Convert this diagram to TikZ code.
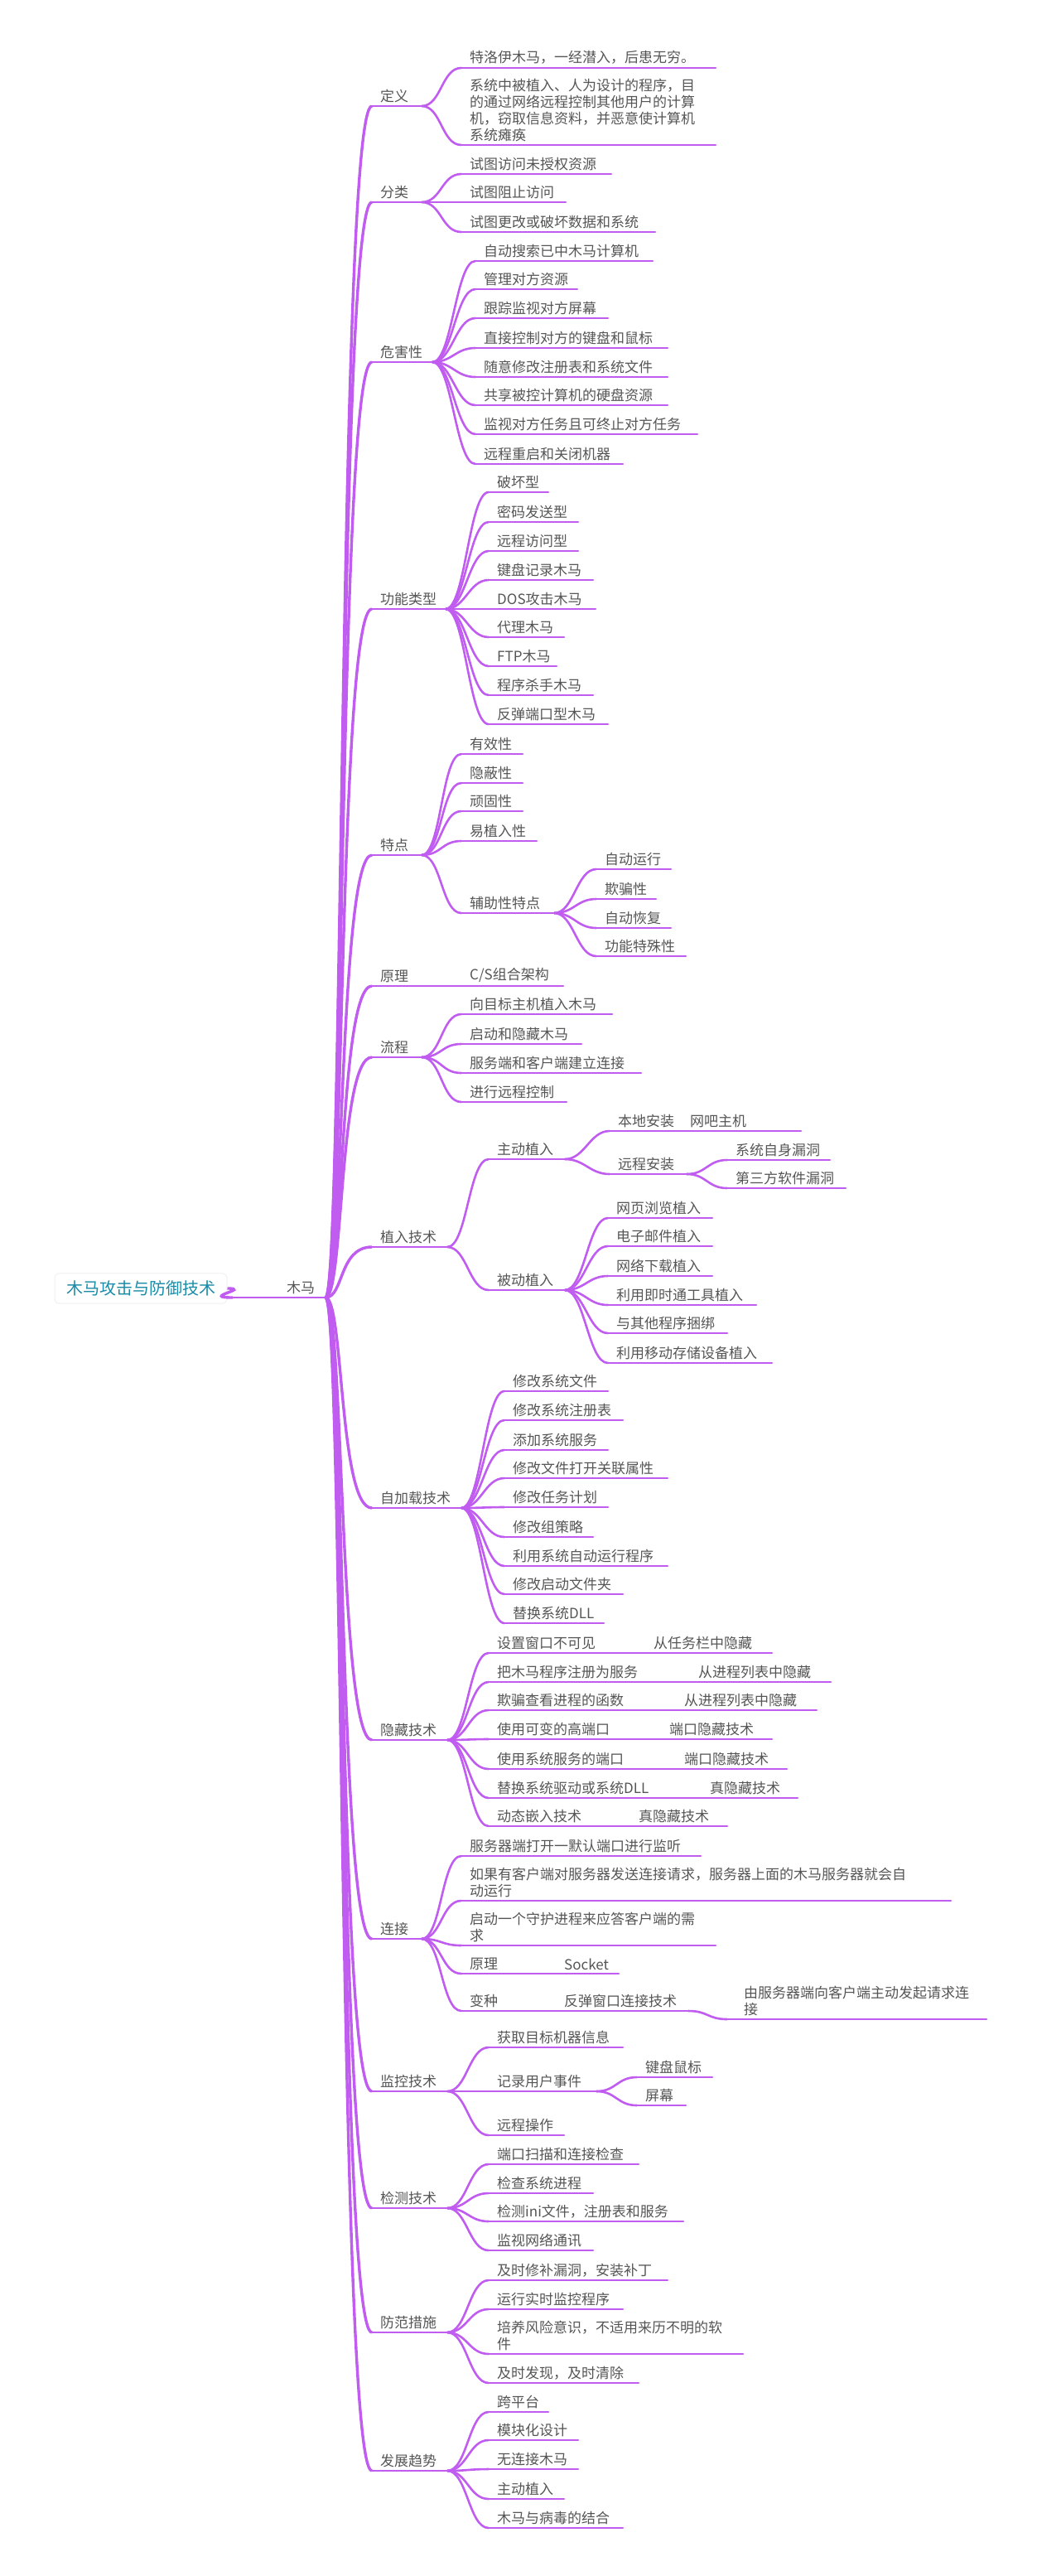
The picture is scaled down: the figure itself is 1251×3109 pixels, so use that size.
\documentclass[tikz,border=0pt]{standalone}
\usepackage{fontspec}
\setmainfont{Noto Sans CJK SC}
\usetikzlibrary{positioning}
\definecolor{branchc}{HTML}{C05CF0}
\definecolor{textc}{HTML}{555555}
\definecolor{rootc}{HTML}{1A8CA8}
\tikzset{
  uline/.style={branchc, line width=2.6pt, line cap=round},
  branch/.style={branchc, line width=2.6pt},
  trunk/.style={branchc, line width=3.4pt},
  txt/.style={anchor=south west, inner sep=0pt, text=textc, font=\fontsize{17}{20}\selectfont, align=left},
}
% leaf: underline from xs to xe at y, text sitting on it
\newcommand\leaf[6][]{%
  \coordinate (#2-s) at (#3,#5);
  \coordinate (#2-e) at (#4,#5);
  \draw[uline] (#2-s) -- (#2-e);
  \node[txt,#1] (#2) at ([xshift=10pt,yshift=4pt]#2-s) {#6};}
\newcommand\link[2]{\draw[branch] (#1-e) .. controls +(24,0) and +(-24,0) .. (#2-s);}
\newcommand\stem[1]{\draw[trunk] (hub) .. controls +(22,0) and +(-40,0) .. (#1-s);}
\begin{document}
\begin{tikzpicture}[x=1pt, y=-1pt]
\useasboundingbox (0,0) rectangle (1251,3109);
% root
\node[draw=black!6, line width=1pt, rounded corners=6pt, fill=white, text=rootc,
  font=\fontsize{20}{24}\selectfont, inner xsep=14pt, inner ysep=9pt] (root) at (170,1555) {木马攻击与防御技术};
\coordinate (hub) at (393,1566);
\leaf[xshift=55pt]{trojan}{281}{393}{1566}{木马}
\draw[trunk] (root.east) .. controls +(30,0) and +(-40,0) .. (trojan-s);
% 定义
\leaf{def}{449}{509}{128}{定义}
\leaf{def1}{557}{864}{82}{特洛伊木马，一经潜入，后患无穷。}
\leaf{def2}{557}{864}{175}{系统中被植入、人为设计的程序，目\\的通过网络远程控制其他用户的计算\\机，窃取信息资料，并恶意使计算机\\系统瘫痪}
\foreach \c in {def1,def2} {\link{def}{\c}}
% 分类
\leaf{cls}{449}{509}{244}{分类}
\leaf{cls1}{557}{738}{210}{试图访问未授权资源}
\leaf{cls2}{557}{683}{244}{试图阻止访问}
\leaf{cls3}{557}{791}{280}{试图更改或破坏数据和系统}
\foreach \c in {cls1,cls2,cls3} {\link{cls}{\c}}
% 危害性
\leaf{harm}{449}{522}{437}{危害性}
\leaf{harm1}{574}{788}{315}{自动搜索已中木马计算机}
\leaf{harm2}{574}{697}{349}{管理对方资源}
\leaf{harm3}{574}{734}{384}{跟踪监视对方屏幕}
\leaf{harm4}{574}{806}{420}{直接控制对方的键盘和鼠标}
\leaf{harm5}{574}{806}{455}{随意修改注册表和系统文件}
\leaf{harm6}{574}{806}{489}{共享被控计算机的硬盘资源}
\leaf{harm7}{574}{842}{524}{监视对方任务且可终止对方任务}
\leaf{harm8}{574}{752}{560}{远程重启和关闭机器}
\foreach \c in {1,...,8} {\link{harm}{harm\c}}
% 功能类型
\leaf{func}{449}{538}{735}{功能类型}
\leaf{func1}{590}{662}{594}{破坏型}
\leaf{func2}{590}{698}{630}{密码发送型}
\leaf{func3}{590}{698}{665}{远程访问型}
\leaf{func4}{590}{716}{700}{键盘记录木马}
\leaf{func5}{590}{719}{735}{DOS攻击木马}
\leaf{func6}{590}{681}{769}{代理木马}
\leaf{func7}{590}{672}{804}{FTP木马}
\leaf{func8}{590}{716}{839}{程序杀手木马}
\leaf{func9}{590}{734}{874}{反弹端口型木马}
\foreach \c in {1,...,9} {\link{func}{func\c}}
% 特点
\leaf{feat}{449}{509}{1032}{特点}
\leaf{feat1}{557}{631}{910}{有效性}
\leaf{feat2}{557}{631}{945}{隐蔽性}
\leaf{feat3}{557}{631}{979}{顽固性}
\leaf{feat4}{557}{648}{1015}{易植入性}
\leaf{feat5}{557}{669}{1102}{辅助性特点}
\foreach \c in {1,...,5} {\link{feat}{feat\c}}
\leaf{aux1}{720}{810}{1049}{自动运行}
\leaf{aux2}{720}{792}{1085}{欺骗性}
\leaf{aux3}{720}{810}{1120}{自动恢复}
\leaf{aux4}{720}{828}{1154}{功能特殊性}
\foreach \c in {1,...,4} {\link{feat5}{aux\c}}
% 原理
\leaf{prin}{449}{557}{1190}{原理}
\leaf{prin1}{557}{680}{1190}{C/S组合架构}
\link{prin}{prin1}
% 流程
\leaf{flow}{449}{509}{1276}{流程}
\leaf{flow1}{557}{739}{1224}{向目标主机植入木马}
\leaf{flow2}{557}{702}{1260}{启动和隐藏木马}
\leaf{flow3}{557}{774}{1295}{服务端和客户端建立连接}
\leaf{flow4}{557}{684}{1330}{进行远程控制}
\foreach \c in {1,...,4} {\link{flow}{flow\c}}
% 植入技术
\leaf{impl}{449}{540}{1505}{植入技术}
\leaf{act}{590}{682}{1399}{主动植入}
\leaf{pas}{590}{682}{1557}{被动植入}
\foreach \c in {act,pas} {\link{impl}{\c}}
\leaf{act1}{736}{823}{1365}{本地安装}
\leaf{act2}{736}{829}{1417}{远程安装}
\foreach \c in {act1,act2} {\link{act}{\c}}
\leaf{loc1}{823}{967}{1365}{网吧主机}
\link{act1}{loc1}
\leaf{rem1}{878}{1002}{1400}{系统自身漏洞}
\leaf{rem2}{878}{1021}{1434}{第三方软件漏洞}
\foreach \c in {rem1,rem2} {\link{act2}{\c}}
\leaf{pas1}{734}{860}{1470}{网页浏览植入}
\leaf{pas2}{734}{860}{1504}{电子邮件植入}
\leaf{pas3}{734}{860}{1540}{网络下载植入}
\leaf{pas4}{734}{913}{1575}{利用即时通工具植入}
\leaf{pas5}{734}{878}{1609}{与其他程序捆绑}
\leaf{pas6}{734}{932}{1645}{利用移动存储设备植入}
\foreach \c in {1,...,6} {\link{pas}{pas\c}}
% 自加载技术
\leaf{load}{449}{557}{1820}{自加载技术}
\leaf{load1}{609}{734}{1679}{修改系统文件}
\leaf{load2}{609}{752}{1714}{修改系统注册表}
\leaf{load3}{609}{734}{1750}{添加系统服务}
\leaf{load4}{609}{806}{1784}{修改文件打开关联属性}
\leaf{load5}{609}{734}{1819}{修改任务计划}
\leaf{load6}{609}{716}{1855}{修改组策略}
\leaf{load7}{609}{806}{1890}{利用系统自动运行程序}
\leaf{load8}{609}{752}{1924}{修改启动文件夹}
\leaf{load9}{609}{729}{1959}{替换系统DLL}
\foreach \c in {1,...,9} {\link{load}{load\c}}
% 隐藏技术
\leaf{hide}{449}{540}{2100}{隐藏技术}
\leaf{hide1}{590}{734}{1995}{设置窗口不可见}
\leaf{hide2}{590}{788}{2030}{把木马程序注册为服务}
\leaf{hide3}{590}{771}{2064}{欺骗查看进程的函数}
\leaf{hide4}{590}{753}{2099}{使用可变的高端口}
\leaf{hide5}{590}{771}{2135}{使用系统服务的端口}
\leaf{hide6}{590}{802}{2170}{替换系统驱动或系统DLL}
\leaf{hide7}{590}{716}{2204}{动态嵌入技术}
\foreach \c in {1,...,7} {\link{hide}{hide\c}}
\leaf[xshift=45pt]{how1}{734}{932}{1995}{从任务栏中隐藏}
\leaf[xshift=45pt]{how2}{788}{1003}{2030}{从进程列表中隐藏}
\leaf[xshift=45pt]{how3}{771}{986}{2064}{从进程列表中隐藏}
\leaf[xshift=45pt]{how4}{753}{932}{2099}{端口隐藏技术}
\leaf[xshift=45pt]{how5}{771}{950}{2135}{端口隐藏技术}
\leaf[xshift=45pt]{how6}{802}{963}{2170}{真隐藏技术}
\leaf[xshift=45pt]{how7}{716}{878}{2204}{真隐藏技术}
\foreach \c in {1,...,7} {\link{hide\c}{how\c}}
% 连接
\leaf{conn}{449}{509}{2340}{连接}
\leaf{conn1}{557}{846}{2240}{服务器端打开一默认端口进行监听}
\leaf{conn2}{557}{1148}{2294}{如果有客户端对服务器发送连接请求，服务器上面的木马服务器就会自\\动运行}
\leaf{conn3}{557}{864}{2348}{启动一个守护进程来应答客户端的需\\求}
\leaf{conn4}{557}{616}{2382}{原理}
\leaf{conn5}{557}{616}{2427}{变种}
\foreach \c in {1,...,5} {\link{conn}{conn\c}}
\leaf[xshift=55pt]{sock}{616}{747}{2382}{Socket}
\link{conn4}{sock}
\leaf[xshift=55pt]{rev}{616}{831}{2427}{反弹窗口连接技术}
\link{conn5}{rev}
\leaf[xshift=10pt]{rev1}{878}{1191}{2437}{由服务器端向客户端主动发起请求连\\接}
\link{rev}{rev1}
% 监控技术
\leaf{mon}{449}{540}{2524}{监控技术}
\leaf{mon1}{590}{752}{2471}{获取目标机器信息}
\leaf{mon2}{590}{720}{2524}{记录用户事件}
\leaf{mon3}{590}{681}{2577}{远程操作}
\foreach \c in {1,...,3} {\link{mon}{mon\c}}
\leaf{evt1}{769}{860}{2507}{键盘鼠标}
\leaf{evt2}{769}{828}{2541}{屏幕}
\foreach \c in {evt1,evt2} {\link{mon2}{\c}}
% 检测技术
\leaf{det}{449}{540}{2665}{检测技术}
\leaf{det1}{590}{771}{2612}{端口扫描和连接检查}
\leaf{det2}{590}{716}{2647}{检查系统进程}
\leaf{det3}{590}{825}{2681}{检测ini文件，注册表和服务}
\leaf{det4}{590}{716}{2716}{监视网络通讯}
\foreach \c in {1,...,4} {\link{det}{det\c}}
% 防范措施
\leaf{prev}{449}{540}{2815}{防范措施}
\leaf{prev1}{590}{806}{2752}{及时修补漏洞，安装补丁}
\leaf{prev2}{590}{752}{2787}{运行实时监控程序}
\leaf{prev3}{590}{897}{2841}{培养风险意识，不适用来历不明的软\\件}
\leaf{prev4}{590}{771}{2876}{及时发现，及时清除}
\foreach \c in {1,...,4} {\link{prev}{prev\c}}
% 发展趋势
\leaf{trend}{449}{540}{2982}{发展趋势}
\leaf{trend1}{590}{662}{2911}{跨平台}
\leaf{trend2}{590}{698}{2945}{模块化设计}
\leaf{trend3}{590}{698}{2980}{无连接木马}
\leaf{trend4}{590}{681}{3016}{主动植入}
\leaf{trend5}{590}{752}{3051}{木马与病毒的结合}
\foreach \c in {1,...,5} {\link{trend}{trend\c}}
% trunk
\foreach \c in {def,cls,harm,func,feat,prin,flow,impl,load,hide,conn,mon,det,prev,trend} {\stem{\c}}
\end{tikzpicture}
\end{document}
